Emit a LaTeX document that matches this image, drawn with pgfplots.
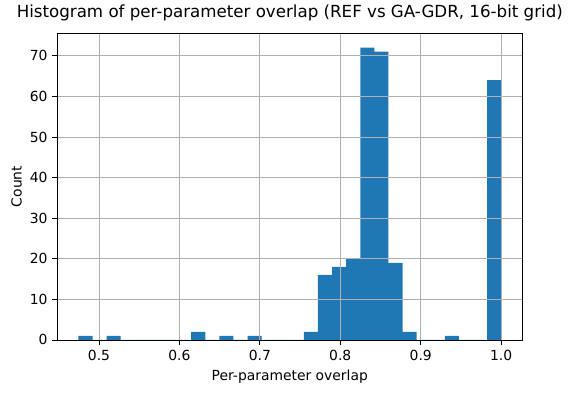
\documentclass[border=0pt]{standalone}
\usepackage{fontspec}
\setmainfont{DejaVu Sans}
\usepackage{pgfplots}
\pgfplotsset{compat=1.18}
\definecolor{mplblue}{HTML}{1F77B4}
\definecolor{gridgray}{HTML}{B0B0B0}
\begin{document}
\begin{tikzpicture}
\useasboundingbox (-41.3pt,-38.2pt) rectangle (369.9pt,244.8pt);
\begin{axis}[
  at={(0,0)}, anchor=south west,
  scale only axis,
  width=334.8pt, height=221pt,
  xmin=0.44825, xmax=1.02625,
  ymin=0, ymax=75.6,
  axis on top,
  grid=major,
  grid style={gridgray, line width=0.58pt},
  axis line style={black, line width=0.58pt},
  tick style={black, line width=0.58pt},
  major tick length=3.5pt,
  tick align=outside,
  tick pos=left,
  xtick={0.5,0.6,0.7,0.8,0.9,1.0},
  xticklabels={0.5,0.6,0.7,0.8,0.9,1.0},
  ytick={0,10,20,30,40,50,60,70},
  /pgf/number format/assume math mode=true,
  tick label style={font=\fontsize{10}{12}\selectfont},
  xlabel={Per-parameter overlap},
  ylabel={Count},
  label style={font=\fontsize{10}{12}\selectfont},
  ylabel style={xshift=0pt, yshift=-1pt},
  title={Histogram of per-parameter overlap (REF vs GA-GDR, 16-bit grid)},
  title style={font=\fontsize{12}{14}\selectfont, at={(0.5,1)}, anchor=south, yshift=-0.8pt},
]
\addplot[ybar interval, fill=mplblue, draw=none] table[x=edge, y=count] {
edge count
0.474500 1
0.492017 0
0.509533 1
0.527050 0
0.544567 0
0.562083 0
0.579600 0
0.597117 0
0.614633 2
0.632150 0
0.649667 1
0.667183 0
0.684700 1
0.702217 0
0.719733 0
0.737250 0
0.754767 2
0.772283 16
0.789800 18
0.807317 20
0.824833 72
0.842350 71
0.859867 19
0.877383 2
0.894900 0
0.912417 0
0.929933 1
0.947450 0
0.964967 0
0.982483 64
1.000000 64
};
\end{axis}
\end{tikzpicture}
\end{document}
